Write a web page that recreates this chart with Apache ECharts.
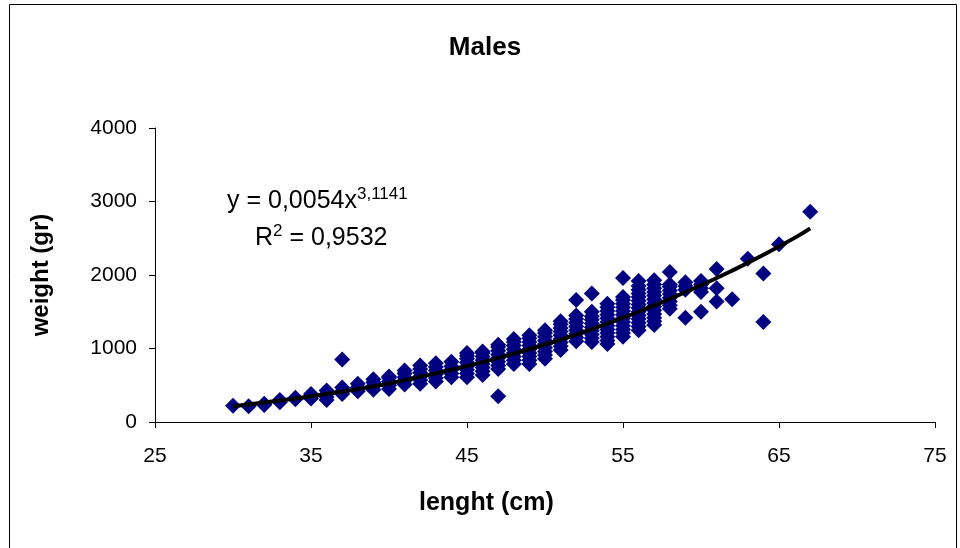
<!DOCTYPE html>
<html>
<head>
<meta charset="utf-8">
<title>Males</title>
<script src="https://cdn.jsdelivr.net/npm/echarts@6/dist/echarts.min.js"></script>
<style>
  html, body { margin: 0; padding: 0; background: #fff; }
  #chart { width: 960px; height: 548px; }
</style>
</head>
<body>
<div id="chart"></div>
<script>
// length (cm) of each measured column
const lengths = [30, 31, 32, 33, 34, 35, 36, 37, 38, 39, 40, 41, 42, 43, 44, 45, 46, 47, 48,
  49, 50, 51, 52, 53, 54, 55, 56, 57, 58, 59, 60, 61, 62, 63, 64, 65, 67]
// weights (gr) read for each length, same order as lengths
const weights = [
  [220],
  [215],
  [230, 250],
  [270, 300],
  [310, 330],
  [320, 350, 380],
  [300, 340, 380, 430],
  [380, 420, 470, 850],
  [420, 470, 520],
  [440, 490, 540, 580],
  [450, 500, 550, 600, 620],
  [510, 560, 610, 660, 700],
  [520, 570, 620, 670, 720, 770],
  [550, 600, 650, 700, 750, 800],
  [610, 660, 710, 760, 820],
  [610, 660, 710, 760, 810, 860, 900, 940],
  [640, 690, 740, 790, 840, 890, 940, 960],
  [350, 720, 770, 820, 870, 920, 970, 1020, 1050],
  [790, 840, 890, 940, 990, 1040, 1090, 1130],
  [790, 840, 890, 940, 990, 1040, 1090, 1140, 1180],
  [860, 910, 960, 1010, 1060, 1110, 1160, 1210, 1250],
  [980, 1030, 1080, 1130, 1180, 1230, 1280, 1330, 1370],
  [1100, 1150, 1200, 1250, 1300, 1350, 1400, 1450, 1660],
  [1090, 1140, 1190, 1240, 1290, 1340, 1390, 1440, 1500, 1750],
  [1060, 1110, 1160, 1210, 1260, 1310, 1360, 1410, 1460, 1510, 1560, 1610],
  [1160, 1210, 1260, 1310, 1360, 1410, 1460, 1510, 1560, 1610, 1660, 1700, 1960],
  [1250, 1300, 1350, 1400, 1450, 1500, 1550, 1600, 1650, 1700, 1750, 1800, 1850, 1920],
  [1320, 1370, 1420, 1470, 1520, 1570, 1620, 1670, 1720, 1770, 1820, 1870, 1930],
  [1540, 1590, 1640, 1690, 1740, 1790, 1840, 1870, 2040],
  [1420, 1800, 1850, 1900],
  [1500, 1770, 1820, 1870, 1920],
  [1640, 1820, 2080],
  [1670],
  [2220],
  [1360, 2020],
  [2420],
  [2860]
]
// power trend line as drawn on the chart
const trendX = [30, 32, 34, 36, 38, 40, 42, 44, 46, 48, 50, 52, 54, 56, 58, 60, 62, 64, 66, 67]
const trendY = [215, 265, 320, 380, 450, 525, 615, 710, 815, 930, 1055, 1190, 1340, 1500, 1675,
  1860, 2060, 2275, 2505, 2635]

const xTicks = [25, 35, 45, 55, 65, 75]
const yTicks = [0, 1000, 2000, 3000, 4000]

const points = []
lengths.forEach((len, i) => {
  weights[i].forEach(w => points.push([len, w]))
})
const trend = trendX.map((x, i) => [x, trendY[i]])

const font = 'Liberation Sans, Arial, sans-serif'
const myChart = echarts.init(document.getElementById('chart'))
const option = {
  backgroundColor: '#fff',
  animation: false,
  title: {
    text: 'Males',
    left: 480,
    textAlign: 'center',
    top: 30,
    textStyle: { fontFamily: font, fontSize: 26, fontWeight: 'bold', color: '#000' }
  },
  grid: { left: 155, right: 25, top: 128, bottom: 126 },
  xAxis: {
    type: 'value',
    min: xTicks[0],
    max: xTicks[xTicks.length - 1],
    interval: 10,
    axisLine: { onZero: false, lineStyle: { color: '#000', width: 1 } },
    axisTick: { show: true, length: 6, lineStyle: { color: '#000' } },
    axisLabel: { margin: 24, fontFamily: font, fontSize: 21, color: '#000' },
    splitLine: { show: false }
  },
  yAxis: {
    type: 'value',
    min: yTicks[0],
    max: yTicks[yTicks.length - 1],
    interval: 1000,
    name: 'weight (gr)',
    nameLocation: 'middle',
    nameGap: 102,
    nameTextStyle: { fontFamily: font, fontSize: 24, fontWeight: 'bold', color: '#000' },
    axisLine: { show: true, lineStyle: { color: '#000', width: 1 } },
    axisTick: { show: true, length: 6, lineStyle: { color: '#000' } },
    axisLabel: { margin: 18, fontFamily: font, fontSize: 21, color: '#000', formatter: v => String(v) },
    splitLine: { show: false }
  },
  graphic: [
    {
      type: 'rect',
      silent: true,
      shape: { x: 9.5, y: 4.5, width: 947, height: 600 },
      style: { fill: 'none', stroke: '#000', lineWidth: 1 }
    },
    {
      type: 'text',
      left: 419,
      top: 491,
      style: { text: 'lenght (cm)', fontFamily: font, fontSize: 25, fontWeight: 'bold', fill: '#000' }
    },
    {
      type: 'text',
      left: 227,
      top: 186,
      style: {
        text: '{n|y = 0,0054x}{s|3,1141}',
        rich: {
          n: { fontFamily: font, fontSize: 25, fill: '#000' },
          s: { fontFamily: font, fontSize: 17, fill: '#000', padding: [0, 0, 13, 0] }
        }
      }
    },
    {
      type: 'text',
      left: 255,
      top: 223,
      style: {
        text: '{n|R}{s|2}{n| = 0,9532}',
        rich: {
          n: { fontFamily: font, fontSize: 25, fill: '#000' },
          s: { fontFamily: font, fontSize: 17, fill: '#000', padding: [0, 0, 13, 0] }
        }
      }
    }
  ],
  series: [
    {
      name: 'weight',
      type: 'scatter',
      symbol: 'diamond',
      symbolSize: [16, 16],
      itemStyle: { color: '#000080', opacity: 1 },
      data: points,
      z: 2
    },
    {
      name: 'trend',
      type: 'line',
      smooth: true,
      showSymbol: false,
      lineStyle: { color: '#000', width: 4 },
      data: trend,
      z: 3
    }
  ]
}
myChart.setOption(option)
</script>
</body>
</html>
